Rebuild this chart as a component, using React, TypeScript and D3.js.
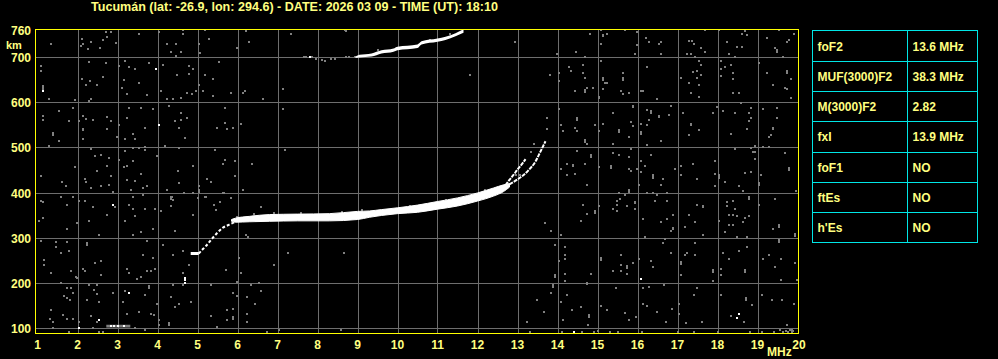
import React from "react";
import * as d3 from "d3";

// ---------- DATA ----------
const titleText = "Tucumán (lat: -26.9, lon: 294.6) - DATE: 2026 03 09 - TIME (UT): 18:10";
const freqTicks = [1, 2, 3, 4, 5, 6, 7, 8, 9, 10, 11, 12, 13, 14, 15, 16, 17, 18, 19, 20];
const heightTicks = [100, 200, 300, 400, 500, 600, 700];
const topHeightLabel = 760;

const paramNames = ["foF2", "MUF(3000)F2", "M(3000)F2", "fxI", "foF1", "ftEs", "h'Es"];
const paramValues = ["13.6 MHz", "38.3 MHz", "2.82", "13.9 MHz", "NO", "NO", "NO"];

// F-layer low-frequency rising part (thin)
const lowTraceFreq = [5.03, 5.1, 5.2, 5.37, 5.49, 5.62, 5.78, 5.95];
const lowTraceHeight = [264, 271, 280, 298, 310, 321, 328, 335];
const blobFreq = [4.83, 5.03];
const blobLow = [261, 261];
const blobHigh = [268, 268];

// F-layer main band
const bandFreq = [5.85, 5.95, 6.3, 6.8, 7.5, 8.3, 9.0, 9.3, 9.6, 10.0, 10.5, 11.0, 11.5, 12.0, 12.4, 12.65, 12.8];
const bandLow = [336, 334, 335, 336, 337, 337, 340, 345, 349, 353, 356, 363, 370, 381, 392, 402, 412];
const bandHigh = [340, 343, 347, 351, 352, 353, 358, 359, 362, 366, 372, 380, 388, 399, 410, 417, 420];

// two cusp branches near the critical frequencies
const branchAFreq = [12.7, 12.78, 12.9, 13.0, 13.1, 13.2];
const branchAHeight = [416, 426, 439, 451, 462, 474];
const branchBFreq = [12.8, 13.0, 13.25, 13.45, 13.58, 13.7];
const branchBHeight = [418, 429, 447, 469, 492, 514];

// second hop trace
const hopFreq = [8.95, 9.05, 9.35, 9.6, 9.9, 10.0, 10.5, 10.6, 11.0, 11.2, 11.45, 11.65];
const hopLow = [699, 700, 702, 709, 713, 716, 721, 729, 735, 739, 747, 755];
const hopHigh = [702, 706, 709, 716, 720, 724, 729, 736, 742, 746, 754, 763];

// E-region echo near 100 km
const eFreq = [2.72, 3.32];
const eLow = [100, 100];
const eHigh = [106, 106];

const whiteDots: [number, number][] = [
  [1.14, 625], [3.95, 674], [4.04, 549], [2.54, 116], [2.04, 99], [3.29, 177], [2.89, 373],
  [18.53, 131], [18.49, 121], [16.09, 208], [14.4, 90], [7.82, 700],
  [4.69, 200], [4.69, 205], [4.69, 210], [2.84, 103], [2.9, 103], [3.0, 103], [3.17, 104],
];

const noiseDots: [number, number][] = [
  // 1-7 MHz, 390-700 km
  [1.09, 680], [1.09, 670], [1.14, 637], [1.14, 633], [1.14, 629], [1.29, 607], [1.14, 571], [1.14, 562],
  [1.54, 581], [1.79, 559], [1.39, 532], [1.39, 527], [1.54, 514], [1.29, 504], [1.09, 437], [1.6, 423],
  [1.71, 415], [1.89, 391], [1.94, 457], [1.94, 605], [1.89, 588], [2.1, 652], [2.21, 638], [2.29, 690],
  [2.31, 648], [2.49, 638], [2.64, 656], [2.7, 687], [2.33, 608], [2.29, 603], [2.14, 570], [2.21, 564],
  [2.39, 562], [2.04, 559], [2.14, 542], [2.14, 538], [2.13, 518], [2.74, 568], [2.84, 559], [2.74, 540],
  [3.04, 680], [3.18, 693], [3.29, 678], [3.44, 674], [3.16, 650], [3.1, 633], [3.23, 618], [3.54, 643],
  [3.79, 687], [4.14, 683], [3.74, 616], [3.04, 551], [3.23, 566], [3.39, 531], [3.44, 518], [3.19, 518],
  [2.99, 524], [3.59, 588], [3.29, 588], [3.89, 585], [3.69, 544], [4.38, 608], [4.24, 607], [4.29, 592],
  [4.49, 661], [4.79, 680], [4.79, 663], [4.89, 674], [5.19, 661], [5.39, 652], [5.03, 638], [4.96, 626],
  [4.86, 618], [4.74, 622], [4.59, 611], [4.09, 625], [4.58, 576], [4.44, 559], [4.59, 562], [4.74, 566],
  [4.54, 544], [4.69, 521], [4.19, 504], [4.54, 499], [4.89, 460], [4.51, 447], [4.54, 421], [4.24, 405],
  [4.36, 391], [5.54, 690], [5.14, 626], [5.39, 614], [5.69, 588], [5.69, 555], [5.49, 544], [5.74, 540],
  [5.89, 544], [6.09, 553], [6.19, 626], [6.14, 622], [5.84, 620], [6.64, 607], [7.14, 629], [7.14, 586],
  [7.19, 495], [6.36, 464], [5.94, 469], [5.69, 473], [5.64, 464], [5.94, 437], [5.44, 495], [6.14, 405],
  [5.64, 400], [5.33, 423], [5.24, 429], [5.04, 415], [5.04, 406], [4.89, 399], [5.19, 391], [3.98, 481],
  [3.69, 501], [3.69, 495], [3.54, 499], [3.39, 499], [3.19, 492], [3.04, 473], [3.16, 457], [3.24, 460],
  [3.39, 469], [3.59, 442], [3.74, 415], [3.64, 411], [3.44, 426], [3.34, 406], [3.64, 395], [3.39, 391],
  [3.24, 427], [2.84, 437], [2.74, 458], [2.79, 477], [2.59, 484], [2.49, 447], [2.44, 481], [2.34, 497],
  [2.19, 429], [2.34, 410], [2.59, 415], [2.79, 417], [2.89, 402], [2.21, 423],
  // above 700 km, low frequencies
  [1.34, 731], [2.12, 741], [2.14, 730], [2.08, 726], [2.26, 719], [2.33, 735], [2.56, 722], [2.64, 739],
  [2.74, 745], [2.7, 757], [2.83, 757], [2.95, 733], [3.53, 752], [4.03, 757], [4.24, 730], [4.34, 713],
  [4.45, 730], [4.58, 713], [4.45, 704], [4.64, 762], [4.64, 752], [5.03, 730], [5.05, 711], [5.18, 762],
  [5.29, 742], [5.99, 720], [6.2, 759], [6.28, 735], [7.34, 752], [8.7, 759], [12.93, 735], [11.81, 661],
  [8.68, 761],
  // left column, lower
  [1.09, 382], [1.14, 378], [1.14, 343], [1.03, 336], [1.73, 318], [1.74, 373], [1.59, 390], [1.99, 333],
  [1.09, 293], [1.45, 289], [1.45, 280], [1.59, 265], [1.16, 250], [1.16, 239], [1.74, 289], [1.78, 269],
  [1.34, 222], [1.83, 226], [1.95, 213],
  // 2-4.7 MHz, 200-395 km
  [2.04, 382], [2.19, 382], [2.39, 367], [2.94, 367], [2.74, 350], [2.29, 337], [2.54, 306], [3.39, 391],
  [3.64, 394], [3.29, 373], [3.39, 364], [3.69, 364], [3.94, 364], [3.44, 347], [3.19, 337], [3.59, 312],
  [3.89, 319], [3.38, 306], [4.34, 391], [4.34, 386], [4.39, 384], [4.34, 369], [4.09, 359], [4.44, 315],
  [2.24, 287], [2.24, 283], [2.59, 248], [2.44, 243], [2.14, 230], [2.19, 226], [2.59, 217], [1.99, 209],
  [3.74, 292], [3.64, 261], [3.89, 254], [4.14, 283], [4.39, 261], [4.64, 270], [3.24, 230], [3.29, 221],
  [3.74, 226], [3.84, 226], [3.94, 230], [3.59, 212], [3.49, 208], [4.64, 221],
  // around the low trace
  [4.88, 350], [5.4, 373], [5.45, 362], [6.58, 368], [6.2, 306], [6.25, 301], [6.03, 254], [6.9, 239],
  [7.25, 266], [8.65, 266], [5.7, 228], [6.08, 221], [4.78, 239], [5.0, 388], [5.03, 402], [5.2, 391],
  [5.55, 378], [5.83, 388], [5.65, 400], [4.65, 400],
  // near the band edges and cusp
  [13.4, 507], [13.33, 491], [7.33, 752], [5.98, 346], [6.4, 352], [6.9, 354], [7.6, 355], [8.6, 356],
  [9.1, 361], [10.3, 370], [11.2, 383], [12.2, 405], [12.95, 440], [13.05, 440],
  // grey parts of second hop
  [7.66, 700], [7.72, 700], [7.87, 700], [7.95, 697], [8.1, 694], [8.2, 693], [8.35, 696], [8.45, 696],
  [8.7, 700], [8.78, 700], [8.95, 701], [9.5, 716], [10.8, 738], [11.3, 752],
  // 1-7 MHz, below 200 km
  [1.59, 200], [1.74, 187], [1.84, 187], [1.66, 170], [1.89, 176], [1.74, 165], [1.81, 162], [1.34, 139],
  [1.64, 127], [1.74, 118], [1.89, 120], [1.31, 118], [1.38, 113], [1.39, 99], [1.78, 90], [2.29, 194],
  [2.49, 194], [2.41, 183], [2.49, 174], [2.24, 162], [2.54, 157], [2.34, 125], [2.49, 113], [2.04, 113],
  [2.39, 99], [2.54, 90], [2.64, 90], [2.89, 177], [3.19, 181], [3.14, 157], [3.24, 131], [3.54, 135],
  [3.69, 172], [3.79, 192], [3.79, 188], [3.99, 152], [3.84, 130], [3.91, 127], [4.04, 116], [4.04, 105],
  [4.29, 110], [4.29, 106], [3.69, 94], [3.44, 99], [4.34, 168], [4.54, 152], [4.44, 146], [4.39, 194],
  [4.64, 194], [4.84, 157], [5.34, 194], [5.34, 125], [5.49, 101], [5.89, 177], [5.99, 170], [6.24, 168],
  [5.89, 142], [5.74, 139], [5.89, 124], [5.89, 120], [5.74, 116], [6.24, 130], [6.24, 113], [6.44, 152],
  [6.34, 194], [6.54, 198], [6.59, 182], [5.99, 202], [6.74, 90], [7.04, 94], [8.59, 94],
  // 13.6-20 MHz, 600-760 km
  [14.81, 752], [14.45, 712], [14.7, 702], [13.99, 707], [15.09, 762], [15.14, 751], [15.14, 747], [15.24, 752],
  [15.09, 730], [15.69, 762], [15.99, 756], [15.99, 727], [15.94, 707], [16.2, 743], [16.29, 734], [16.54, 730],
  [16.59, 734], [16.59, 707], [17.29, 736], [17.37, 737], [17.41, 730], [17.59, 721], [17.69, 712], [17.24, 707],
  [17.34, 707], [17.44, 700], [17.69, 762], [18.04, 762], [18.24, 734], [18.49, 724], [18.6, 724], [18.6, 752],
  [18.69, 759], [18.74, 749], [18.29, 707], [18.44, 702], [19.24, 743], [19.44, 721], [19.49, 713], [19.49, 717],
  [19.74, 734], [19.79, 739], [19.54, 762], [19.91, 752], [19.64, 702], [13.81, 661], [14.04, 665], [14.04, 648],
  [14.29, 678], [14.34, 670], [14.64, 684], [14.64, 665], [14.69, 655], [14.74, 633], [14.89, 633], [14.44, 626],
  [14.69, 623], [14.69, 627], [15.09, 693], [15.14, 654], [15.14, 650], [15.19, 643], [15.24, 643], [15.14, 630],
  [15.04, 609], [15.04, 613], [15.64, 665], [15.64, 650], [15.64, 654], [15.59, 626], [15.64, 618], [15.79, 620],
  [16.24, 678], [16.09, 626], [16.14, 626], [16.49, 608], [17.09, 655], [17.29, 643], [17.39, 667], [17.49, 670],
  [17.49, 655], [17.59, 661], [17.59, 684], [17.54, 693], [17.34, 620], [17.54, 613], [17.54, 638], [18.09, 693],
  [18.19, 678], [18.09, 675], [18.34, 684], [18.39, 665], [18.39, 652], [18.09, 658], [18.39, 620], [18.54, 620],
  [19.04, 687], [19.24, 665], [19.39, 638], [19.74, 669], [19.74, 665], [19.84, 652], [19.69, 633], [19.74, 630],
  [19.84, 611],
  // 13.6-20 MHz, 440-600 km
  [13.74, 566], [13.74, 541], [14.04, 585], [14.09, 550], [14.14, 536], [14.44, 544], [14.49, 565], [14.49, 561],
  [14.49, 536], [14.69, 516], [14.69, 512], [14.94, 550], [15.14, 553], [15.04, 536], [15.39, 576], [15.54, 539],
  [15.54, 535], [15.79, 524], [15.84, 557], [15.89, 548], [15.89, 593], [15.89, 589], [15.39, 507], [16.09, 553],
  [16.09, 535], [16.09, 531], [16.24, 550], [16.24, 583], [16.34, 580], [16.34, 576], [16.29, 561], [16.54, 571],
  [16.54, 567], [16.79, 572], [16.84, 593], [16.59, 514], [16.24, 505], [17.14, 576], [17.34, 553], [17.34, 549],
  [17.54, 539], [17.29, 527], [17.89, 576], [17.99, 591], [18.14, 581], [18.44, 576], [18.59, 598], [18.84, 588],
  [18.79, 576], [18.84, 566], [18.79, 559], [18.74, 541], [18.34, 531], [19.14, 585], [19.49, 588], [19.49, 566],
  [19.39, 544], [19.39, 540], [19.34, 527], [19.29, 523], [14.49, 492], [14.84, 484], [14.84, 480], [14.74, 507],
  [14.24, 464], [14.39, 462], [14.39, 458], [14.69, 464], [14.44, 442], [14.24, 438], [14.09, 452], [15.04, 457],
  [15.34, 459], [15.34, 455], [15.39, 487], [15.54, 483], [15.79, 479], [15.84, 496], [15.79, 453], [15.84, 447],
  [15.99, 453], [16.09, 469], [16.19, 460], [16.34, 483], [16.39, 438], [16.39, 434], [16.09, 446], [16.94, 453],
  [17.09, 460], [17.39, 464], [17.94, 469], [17.94, 442], [18.04, 438], [18.44, 496], [18.84, 498], [18.89, 489],
  [18.94, 504], [18.94, 489], [18.94, 474], [19.14, 501], [19.29, 501], [19.69, 487], [19.79, 455], [19.79, 451],
  [18.69, 444], [18.84, 446], [19.09, 438],
  // 13.6-20 MHz, 200-440 km
  [14.24, 438], [14.74, 417], [16.39, 436], [16.39, 432], [16.64, 429], [16.04, 417], [16.59, 417], [17.09, 438],
  [17.49, 429], [18.04, 436], [18.04, 432], [18.19, 423], [17.94, 414], [18.54, 414], [18.64, 404], [19.04, 421],
  [19.04, 417], [19.09, 438], [19.96, 404], [15.54, 399], [15.79, 406], [15.79, 402], [15.69, 394], [15.57, 386],
  [15.49, 382], [15.49, 373], [15.39, 364], [15.49, 359], [15.74, 369], [15.94, 380], [15.94, 376], [15.94, 364],
  [16.24, 399], [16.39, 399], [16.49, 395], [16.74, 399], [16.44, 382], [16.74, 382], [15.04, 369], [14.64, 373],
  [14.94, 358], [14.94, 354], [14.74, 352], [14.59, 337], [13.69, 332], [13.84, 315], [14.09, 306], [16.14, 342],
  [16.59, 334], [16.74, 342], [16.89, 350], [16.89, 322], [16.89, 318], [16.84, 315], [16.19, 302], [17.19, 324],
  [17.29, 350], [17.44, 334], [17.49, 373], [17.64, 371], [17.64, 367], [17.64, 306], [18.04, 337], [18.19, 312],
  [18.24, 379], [18.24, 369], [18.39, 382], [18.44, 364], [18.29, 350], [18.39, 350], [18.49, 347], [18.69, 343],
  [18.79, 347], [18.64, 334], [18.39, 328], [18.29, 328], [18.79, 389], [18.79, 385], [18.49, 302], [18.74, 302],
  [19.04, 373], [19.44, 386], [19.54, 328], [19.54, 324], [19.39, 319], [19.94, 307], [19.94, 303], [19.54, 295],
  [19.54, 291], [13.94, 283], [14.19, 280], [14.19, 261], [14.19, 252], [14.04, 248], [13.94, 217], [13.94, 213],
  [14.19, 220], [14.19, 203], [14.84, 220], [15.09, 255], [15.09, 251], [15.59, 261], [15.59, 239], [15.39, 226],
  [15.59, 226], [15.74, 237], [15.74, 233], [15.74, 220], [15.89, 243], [16.04, 252], [16.34, 248], [16.39, 235],
  [16.64, 287], [16.69, 297], [16.84, 265], [17.09, 246], [17.09, 242], [17.09, 217], [17.19, 261], [17.24, 265],
  [17.44, 287], [17.44, 261], [17.89, 228], [17.89, 224], [18.09, 230], [18.09, 217], [18.14, 265], [18.29, 252],
  [18.54, 270], [18.69, 228], [18.69, 224], [18.74, 280], [19.14, 252], [19.29, 261], [19.44, 235], [19.59, 252],
  [19.94, 243], [19.59, 205], [19.99, 205], [14.74, 198], [17.89, 203],
  // 13-20 MHz, below 200 km
  [13.89, 194], [13.89, 190], [13.84, 176], [14.09, 157], [14.24, 172], [14.37, 139], [14.14, 116], [13.66, 135],
  [13.24, 113], [13.49, 161], [14.59, 146], [14.74, 197], [14.79, 127], [14.79, 123], [14.76, 105], [15.09, 148],
  [15.24, 140], [15.45, 187], [15.7, 133], [15.78, 116], [15.95, 124], [16.14, 187], [16.28, 191], [16.66, 194],
  [16.14, 153], [16.24, 148], [16.49, 135], [16.7, 113], [16.87, 142], [17.03, 153], [17.03, 131], [17.2, 109],
  [17.41, 172], [17.49, 187], [17.62, 113], [18.09, 172], [18.33, 125], [18.7, 165], [18.7, 161], [18.87, 150],
  [18.66, 113], [19.12, 172], [19.37, 161], [19.62, 161], [19.91, 153], [19.74, 105], [19.57, 95],
  [13.3, 91], [14.1, 90], [14.6, 90], [14.9, 90], [15.0, 92], [15.3, 90], [15.5, 90], [16.1, 90], [17.0, 90],
  [17.4, 90], [18.0, 90], [18.8, 90], [19.1, 90], [19.4, 90], [19.65, 90], [19.7, 92], [19.75, 90], [19.8, 94],
  [19.85, 90], [19.9, 92], [19.85, 94],
];

// ---------- LAYOUT ----------
const W = 998;
const H = 359;
const frameLeft = 35.5;
const frameRight = 798.5;
const frameTop = 29.5;
const frameBottom = 333.5;

const x = d3.scaleLinear().domain([1, 20]).range([37.5, 797.5]);
const y = d3.scaleLinear().domain([86.7, 762.2]).range([frameBottom, frameTop]);

const FONT = "'Liberation Sans', Arial, sans-serif";
const TEXT = "#ffff80";
const YELLOW = "#ffff00";
const GRID = "#6e6e6e";
const NOISE = "#808080";
const CYAN = "#00e6e6";

type Pt = { f: number; lo: number; hi: number };
const zipBand = (f: number[], lo: number[], hi: number[]): Pt[] => f.map((v, i) => ({ f: v, lo: lo[i], hi: hi[i] }));

const area = d3
  .area<Pt>()
  .x((d) => x(d.f))
  .y0((d) => y(d.lo))
  .y1((d) => y(d.hi))
  .curve(d3.curveMonotoneX);

const line = d3
  .line<[number, number]>()
  .x((d) => x(d[0]))
  .y((d) => y(d[1]))
  .curve(d3.curveMonotoneX);

const zipLine = (f: number[], h: number[]): [number, number][] => f.map((v, i) => [v, h[i]]);

export default function App() {
  const rowH = (242.5 - 30.5) / paramNames.length;
  const tableLeft = 812.5;
  const tableRight = 977.5;
  const tableTop = 30.5;
  const colX = 907.5;

  return (
    <svg
      width={W}
      height={H}
      style={{ position: "absolute", left: 0, top: 0, background: "#000", display: "block" }}
      fontFamily={FONT}
      fontWeight="bold"
    >
      <rect x={0} y={0} width={W} height={H} fill="#000" />
      <text x={91} y={11} fill={TEXT} fontSize={12} textLength={407} lengthAdjust="spacingAndGlyphs">
        {titleText}
      </text>

      <defs>
        <clipPath id="plotClip">
          <rect x={frameLeft} y={frameTop} width={frameRight - frameLeft} height={frameBottom - frameTop} />
        </clipPath>
      </defs>

      <g clipPath="url(#plotClip)" shapeRendering="crispEdges">
        {freqTicks
          .filter((f) => f > 1 && f < 20)
          .map((f) => (
            <line key={"vx" + f} x1={Math.round(x(f)) + 0.5} x2={Math.round(x(f)) + 0.5} y1={frameTop} y2={frameBottom} stroke={GRID} strokeWidth={1} />
          ))}
        {heightTicks.map((h) => (
          <line key={"hy" + h} x1={frameLeft} x2={frameRight} y1={Math.round(y(h)) + 0.5} y2={Math.round(y(h)) + 0.5} stroke={GRID} strokeWidth={1} />
        ))}
        {noiseDots.map(([f, h], i) => (
          <rect key={"n" + i} x={Math.round(x(f)) - 1} y={Math.round(y(h)) - 1} width={2} height={2} fill={NOISE} />
        ))}
      </g>

      <g clipPath="url(#plotClip)">
        <path d={area(zipBand(eFreq, eLow, eHigh)) || ""} fill={NOISE} />
        <path d={area(zipBand(blobFreq, blobLow, blobHigh)) || ""} fill="#fff" />
        <path d={line(zipLine(lowTraceFreq, lowTraceHeight)) || ""} fill="none" stroke="#fff" strokeWidth={2} strokeDasharray="3 2" />
        <path d={area(zipBand(bandFreq, bandLow, bandHigh)) || ""} fill="#fff" stroke="#fff" strokeWidth={1} />
        <path d={line(zipLine(branchAFreq, branchAHeight)) || ""} fill="none" stroke="#fff" strokeWidth={2} strokeDasharray="4 1" />
        <path d={line(zipLine(branchBFreq, branchBHeight)) || ""} fill="none" stroke="#fff" strokeWidth={2} strokeDasharray="4 1" />
        <path d={area(zipBand(hopFreq, hopLow, hopHigh)) || ""} fill="#fff" />
        {whiteDots.map(([f, h], i) => (
          <rect key={"w" + i} x={Math.round(x(f)) - 1} y={Math.round(y(h)) - 1} width={2} height={2} fill="#fff" shapeRendering="crispEdges" />
        ))}
      </g>

      <rect
        x={frameLeft}
        y={frameTop}
        width={frameRight - frameLeft}
        height={frameBottom - frameTop}
        fill="none"
        stroke={YELLOW}
        strokeWidth={1}
        shapeRendering="crispEdges"
      />

      {/* y axis labels */}
      {heightTicks.map((h) => (
        <text key={"yl" + h} x={31} y={y(h) + 5} fill={TEXT} fontSize={12} textAnchor="end">
          {h}
        </text>
      ))}
      <text x={31} y={y(topHeightLabel) + 4.5} fill={TEXT} fontSize={12} textAnchor="end">
        {topHeightLabel}
      </text>
      <text x={6} y={48.5} fill={TEXT} fontSize={11}>
        km
      </text>

      {/* x axis labels */}
      {freqTicks.map((f) => (
        <text key={"xl" + f} x={f === 20 ? x(f) + 1.5 : x(f)} y={348.5} fill={TEXT} fontSize={12} textAnchor="middle">
          {f}
        </text>
      ))}
      <text x={767} y={356} fill={TEXT} fontSize={12}>
        MHz
      </text>

      {/* parameter table */}
      <g shapeRendering="crispEdges">
        <rect x={tableLeft} y={tableTop} width={tableRight - tableLeft} height={rowH * paramNames.length} fill="none" stroke={CYAN} strokeWidth={1} />
        <line x1={colX} x2={colX} y1={tableTop} y2={tableTop + rowH * paramNames.length} stroke={CYAN} strokeWidth={1} />
        {paramNames.slice(1).map((_, i) => (
          <line key={"tr" + i} x1={tableLeft} x2={tableRight} y1={Math.round(tableTop + rowH * (i + 1)) + 0.5} y2={Math.round(tableTop + rowH * (i + 1)) + 0.5} stroke={CYAN} strokeWidth={1} />
        ))}
      </g>
      {paramNames.map((name, i) => (
        <g key={"tp" + i}>
          <text x={817.5} y={tableTop + rowH * i + 20} fill={TEXT} fontSize={12}>
            {name}
          </text>
          <text x={912.5} y={tableTop + rowH * i + 20} fill={TEXT} fontSize={12}>
            {paramValues[i]}
          </text>
        </g>
      ))}
    </svg>
  );
}
